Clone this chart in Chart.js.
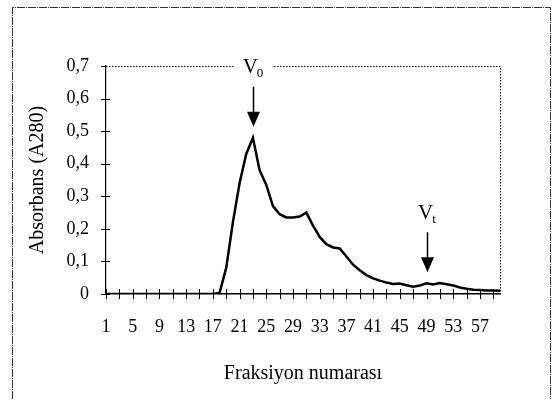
<!DOCTYPE html>
<html>
<head>
  <title>Jel filtrasyon profili</title>
  <script src="https://cdn.jsdelivr.net/npm/chart.js@4.4.0/dist/chart.umd.min.js"></script>
  <style>
    body { margin: 0; background: #fff; }
  </style>
</head>
<body>
  <canvas id="elutionChart" width="553" height="400"></canvas>

  <script>
    // fraction numbers (x categories)
    const fractions = [
      1, 2, 3, 4, 5, 6, 7, 8, 9, 10, 11, 12, 13, 14, 15, 16, 17, 18, 19, 20,
      21, 22, 23, 24, 25, 26, 27, 28, 29, 30, 31, 32, 33, 34, 35, 36, 37, 38, 39, 40,
      41, 42, 43, 44, 45, 46, 47, 48, 49, 50, 51, 52, 53, 54, 55, 56, 57, 58, 59, 60
    ];
    // absorbance at 280 nm
    const absorbance = [
      0, 0, 0, 0, 0, 0, 0, 0, 0, 0, 0, 0, 0, 0, 0, 0, 0, 0.003, 0.08, 0.22,
      0.34, 0.43, 0.48, 0.38, 0.335, 0.27, 0.245, 0.235, 0.235, 0.238, 0.25, 0.21, 0.175, 0.153, 0.143, 0.14, 0.115, 0.09, 0.073, 0.058,
      0.048, 0.041, 0.035, 0.031, 0.032, 0.027, 0.022, 0.026, 0.033, 0.029, 0.034, 0.03, 0.026, 0.02, 0.016, 0.013, 0.012, 0.011, 0.011, 0.01
    ];
    const yTicks = [0, 0.1, 0.2, 0.3, 0.4, 0.5, 0.6, 0.7];
    // void volume / total volume markers
    const markerNames = ['V', 'V'];
    const markerSubs = ['0', 't'];
    const markerFractions = [23, 49];

    const serif = '"Liberation Serif", "Times New Roman", serif';

    const decor = {
      id: 'decor',
      afterDraw(chart) {
        const { ctx, chartArea: a, scales: { x, y } } = chart;
        const y0 = y.getPixelForValue(0);
        ctx.save();

        // outer frame of the scanned figure
        ctx.strokeStyle = '#333';
        ctx.lineWidth = 1;
        ctx.setLineDash([8, 1, 1, 1]);
        ctx.beginPath();
        ctx.moveTo(12.5, 399);
        ctx.lineTo(12.5, 7.5);
        ctx.lineTo(550.5, 7.5);
        ctx.lineTo(550.5, 399);
        ctx.stroke();

        // dotted plot-area border (top and right)
        ctx.strokeStyle = '#000';
        ctx.setLineDash([1.5, 1.5]);
        ctx.beginPath();
        ctx.moveTo(a.left, a.top + 0.5);
        ctx.lineTo(a.right + 0.5, a.top + 0.5);
        ctx.lineTo(a.right + 0.5, y0);
        ctx.stroke();
        ctx.setLineDash([]);

        // tick marks crossing the axes
        ctx.lineWidth = 1;
        ctx.beginPath();
        for (let i = 0; i < fractions.length; i += 2) {
          const px = Math.round(x.getPixelForValue(i)) + 0.5;
          ctx.moveTo(px, y0 - 5);
          ctx.lineTo(px, y0 + 5);
        }
        yTicks.forEach(v => {
          const py = Math.round(y.getPixelForValue(v)) + 0.5;
          ctx.moveTo(a.left - 5, py);
          ctx.lineTo(a.left + (v === 0.7 ? 0 : 4), py);
        });
        ctx.stroke();

        // V0 / Vt labels with arrows
        markerFractions.forEach((f, k) => {
          const idx = fractions.indexOf(f);
          const px = Math.round(x.getPixelForValue(idx)) + 0.5;
          const tip = y.getPixelForValue(absorbance[idx]) - 11;
          const ly = tip - 59;

          ctx.font = '21px ' + serif;
          const w1 = ctx.measureText(markerNames[k]).width;
          ctx.font = '13px ' + serif;
          const w2 = ctx.measureText(markerSubs[k]).width;
          const tx = px - (w1 + w2) / 2;
          ctx.fillStyle = '#fff';
          ctx.fillRect(tx - 8, ly - 11, w1 + w2 + 16, 22);

          ctx.fillStyle = '#000';
          ctx.textBaseline = 'middle';
          ctx.textAlign = 'left';
          ctx.font = '21px ' + serif;
          ctx.fillText(markerNames[k], tx, ly);
          ctx.font = '13px ' + serif;
          ctx.fillText(markerSubs[k], tx + w1 - 1, ly + 6);

          ctx.lineWidth = 1.5;
          ctx.beginPath();
          ctx.moveTo(px, tip - 40);
          ctx.lineTo(px, tip - 12);
          ctx.stroke();
          ctx.beginPath();
          ctx.moveTo(px - 6.5, tip - 15);
          ctx.lineTo(px + 6.5, tip - 15);
          ctx.lineTo(px, tip);
          ctx.closePath();
          ctx.fill();
        });

        ctx.restore();
      }
    };

    const ctx = document.getElementById('elutionChart').getContext('2d');
    new Chart(ctx, {
      type: 'line',
      data: {
        labels: fractions,
        datasets: [{
          label: 'Absorbans (A280)',
          data: absorbance,
          borderColor: '#000',
          borderWidth: 2.5,
          pointRadius: 0,
          tension: 0,
          fill: false
        }]
      },
      options: {
        responsive: false,
        animation: false,
        devicePixelRatio: 1,
        layout: { padding: { left: 0, top: 66, right: 53, bottom: 0 } },
        plugins: {
          legend: { display: false },
          tooltip: { enabled: false }
        },
        scales: {
          x: {
            type: 'category',
            offset: false,
            grid: { display: false, drawTicks: false },
            border: { display: true, color: '#000', width: 1.6 },
            ticks: {
              autoSkip: false,
              maxRotation: 0,
              padding: 22,
              color: '#000',
              font: { family: serif, size: 18 },
              callback: (val, i) => (i % 4 === 0 ? String(fractions[i]) : '')
            },
            title: {
              display: true,
              text: 'Fraksiyon numarası',
              color: '#000',
              font: { family: serif, size: 20 },
              padding: { top: 0, bottom: 14 }
            },
            afterFit: s => { s.height = 106; }
          },
          y: {
            min: 0,
            max: 0.7,
            grid: { display: false, drawTicks: false },
            border: { display: true, color: '#000', width: 1.2 },
            ticks: {
              stepSize: 0.1,
              padding: 17,
              color: '#000',
              font: { family: serif, size: 18 },
              callback: v => (v === 0 ? '0' : v.toFixed(1).replace('.', ','))
            },
            title: {
              display: true,
              text: 'Absorbans (A280)',
              color: '#000',
              font: { family: serif, size: 20 },
              padding: { top: 26, bottom: 0 }
            },
            afterFit: s => { s.width = 106; }
          }
        }
      },
      plugins: [decor]
    });
  </script>
</body>
</html>
